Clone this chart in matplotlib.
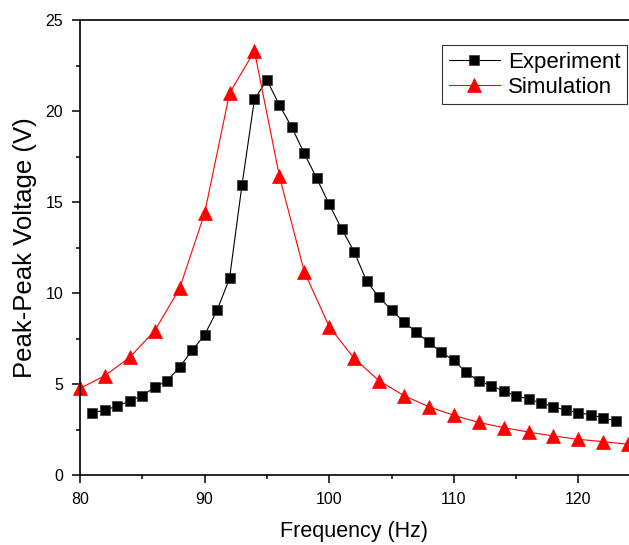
import matplotlib
matplotlib.use("Agg")
import matplotlib.pyplot as plt
from matplotlib.ticker import MultipleLocator

plt.rcParams['font.family'] = ['Liberation Sans', 'DejaVu Sans']

exp_freq = list(range(81, 124))
exp_volt = [3.42, 3.57, 3.79, 4.07, 4.36, 4.82, 5.18, 5.93, 6.85, 7.69,
            9.05, 10.8, 15.93, 20.64, 21.7, 20.33, 19.1, 17.67, 16.3, 14.87,
            13.52, 12.27, 10.66, 9.76, 9.07, 8.41, 7.84, 7.29, 6.74, 6.3,
            5.64, 5.16, 4.91, 4.61, 4.36, 4.16, 3.97, 3.74, 3.57, 3.42,
            3.31, 3.13, 2.97]

sim_freq = list(range(80, 125, 2))
sim_volt = [4.76, 5.46, 6.47, 7.93, 10.26, 14.38, 20.97, 23.3, 16.43, 11.17,
            8.15, 6.41, 5.18, 4.36, 3.75, 3.28, 2.89, 2.6, 2.36, 2.14,
            1.96, 1.83, 1.69]

fig = plt.figure(figsize=(6.29, 5.45), dpi=100)
ax = fig.add_axes([80/629, 70/545, 549/629, 455/545])

ax.plot(exp_freq, exp_volt, color='black', lw=0.8, marker='s', markersize=6.5,
        markerfacecolor='black', markeredgecolor='#333333', markeredgewidth=0.5,
        label='Experiment', clip_on=False)
ax.plot(sim_freq, sim_volt, color='red', lw=0.8, marker='^', markersize=9.8,
        markerfacecolor='red', markeredgecolor='red', markeredgewidth=0.5,
        label='Simulation', clip_on=False)

ax.set_xlim(80, 124.06)
ax.set_ylim(0, 25)
ax.xaxis.set_major_locator(MultipleLocator(10))
ax.xaxis.set_minor_locator(MultipleLocator(5))
ax.yaxis.set_major_locator(MultipleLocator(5))
ax.yaxis.set_minor_locator(MultipleLocator(2.5))
ax.tick_params(which='major', direction='out', length=6, width=1.1, labelsize=11.5, pad=6)
ax.tick_params(which='minor', direction='out', length=2.8, width=1.1)
ax.tick_params(top=False, right=False)
ax.spines['right'].set_visible(False)
for s in ['left', 'bottom', 'top']:
    ax.spines[s].set_linewidth(1.2)

ax.set_xlabel('Frequency (Hz)', fontsize=15.5, labelpad=10)
ax.set_ylabel('Peak-Peak Voltage (V)', fontsize=18.5, labelpad=6)

leg = ax.legend(loc='upper right', bbox_to_anchor=(547/549, 1 - 25/455), fontsize=16,
                frameon=True, fancybox=False, edgecolor='black', handlelength=2.3,
                borderpad=0.3, labelspacing=0.18, handletextpad=0.35, borderaxespad=0)
leg.get_frame().set_linewidth(0.8)

fig.savefig('out.png', dpi=100)
